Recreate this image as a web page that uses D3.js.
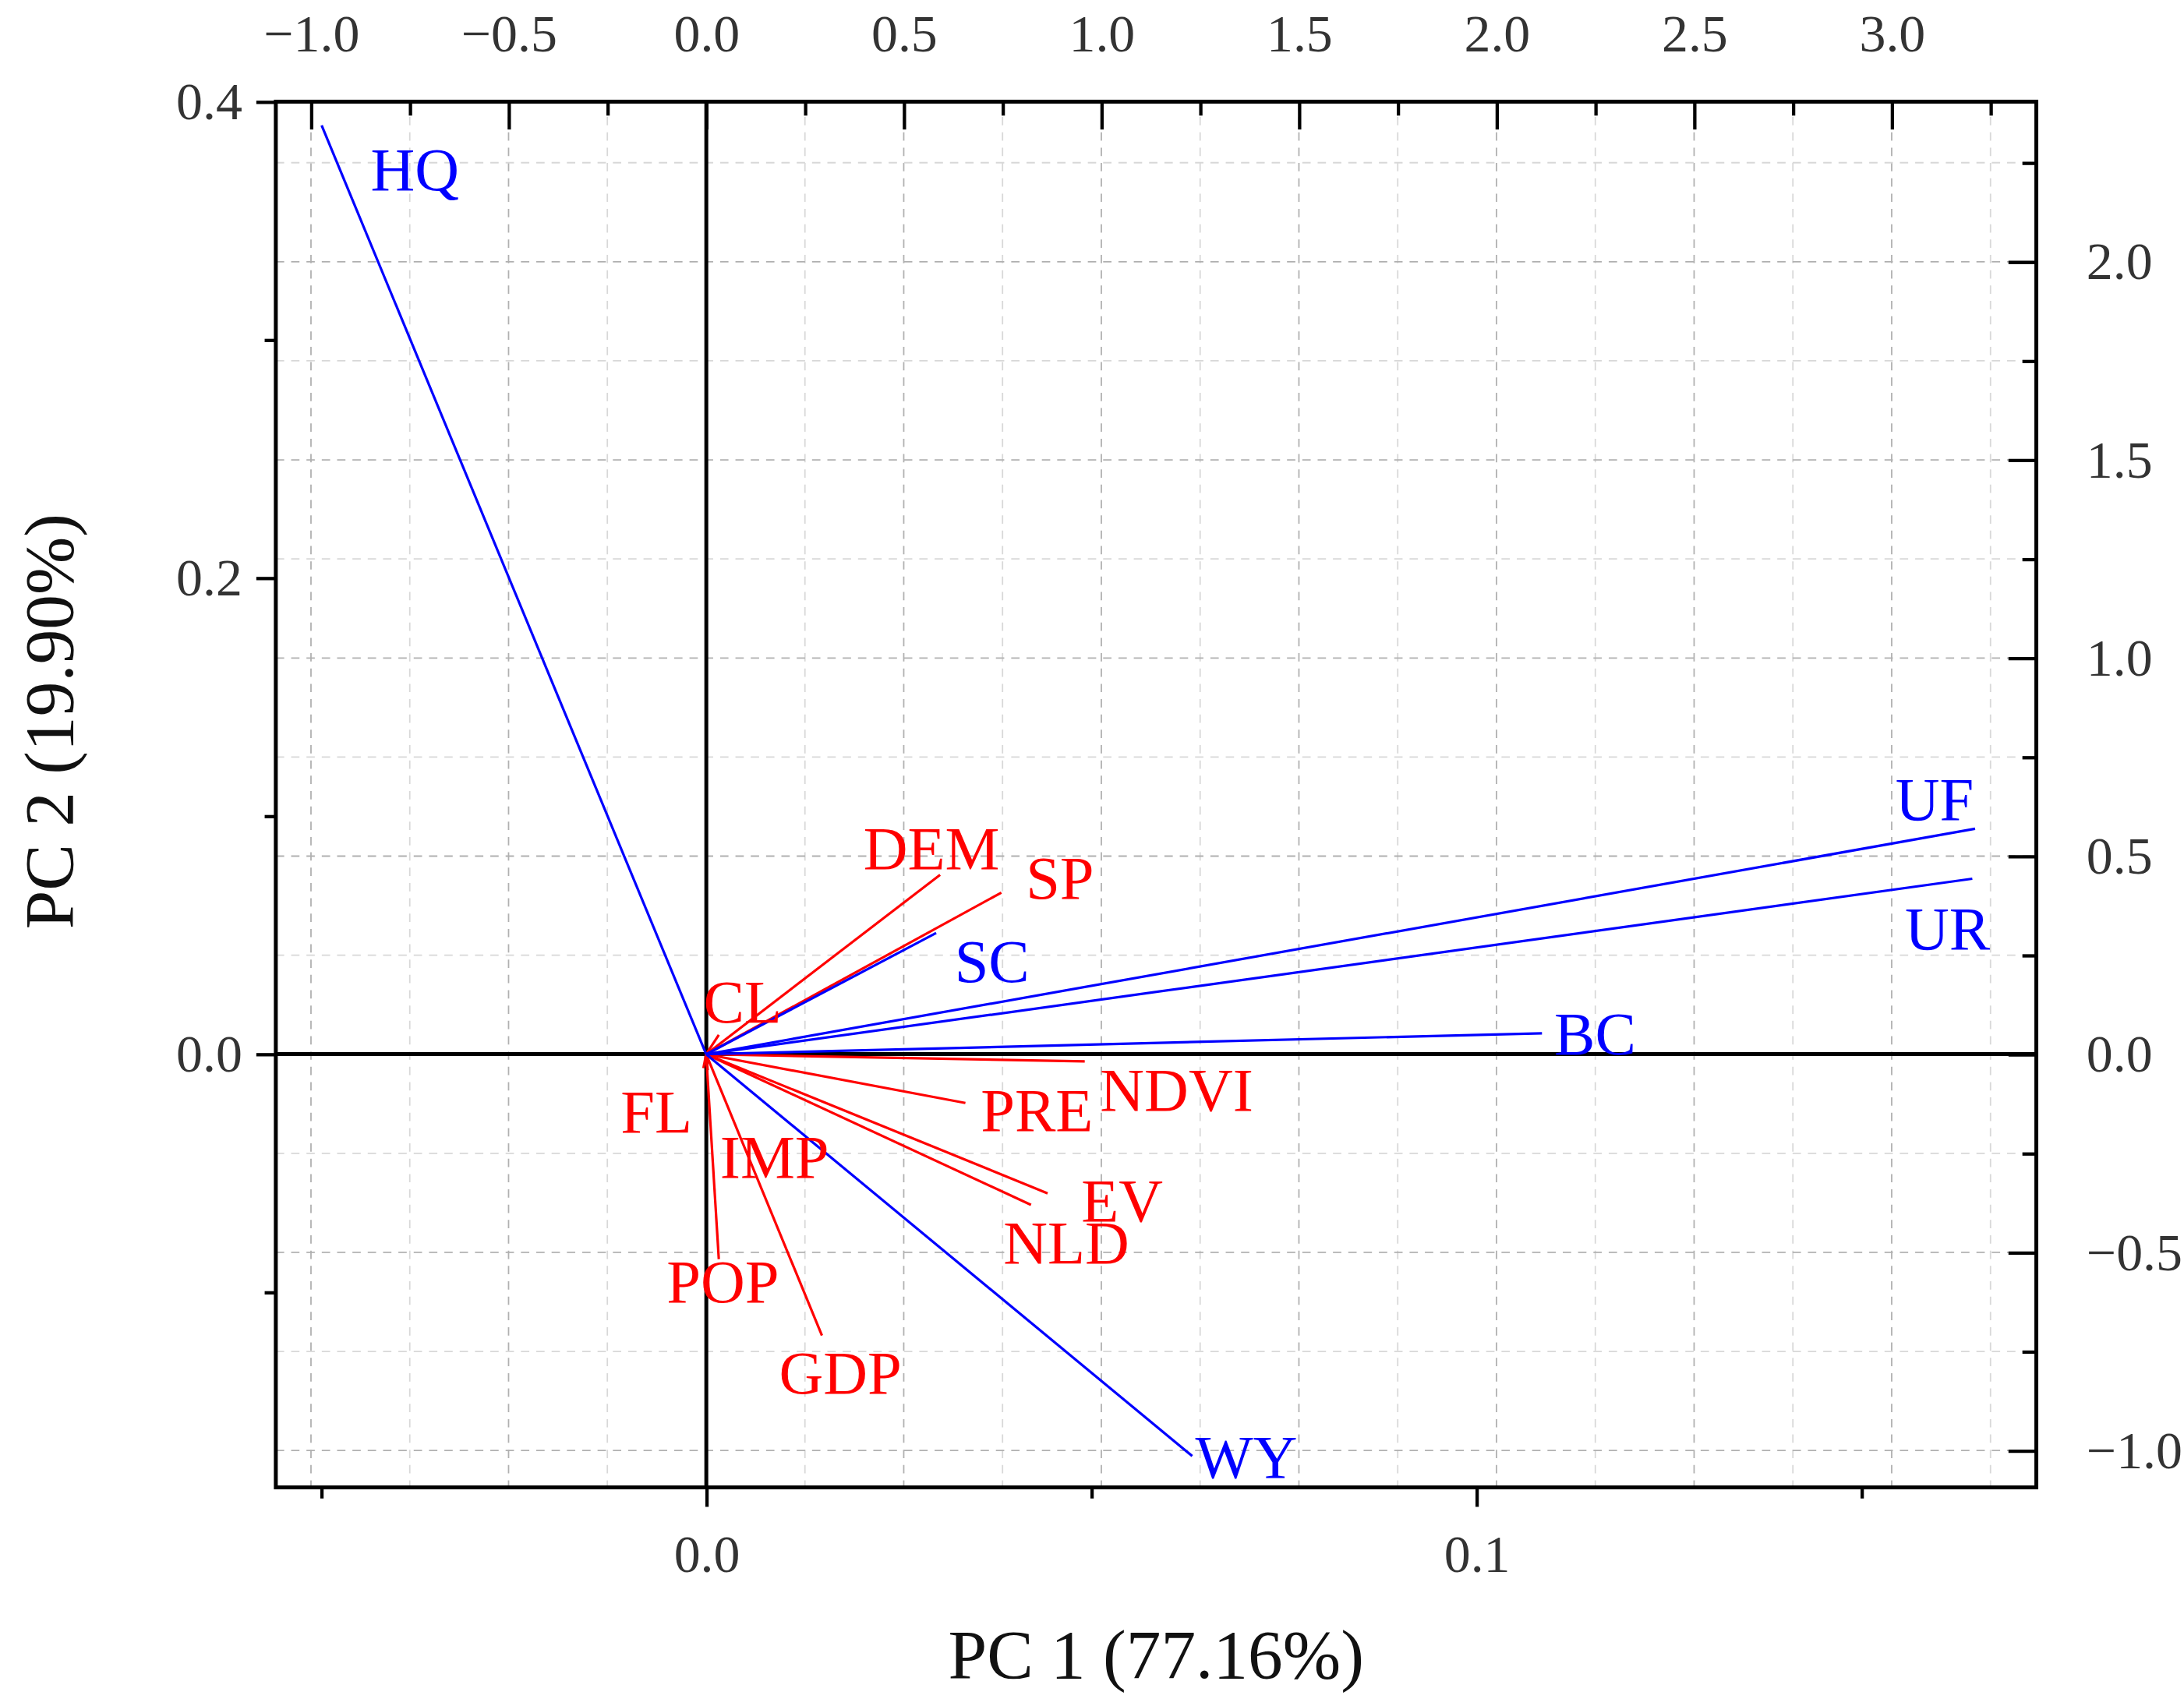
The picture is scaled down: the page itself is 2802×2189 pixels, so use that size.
<!DOCTYPE html>
<html>
<head>
<meta charset="utf-8">
<script src="https://cdn.jsdelivr.net/npm/d3@7"></script>
<style>
  html, body { margin: 0; padding: 0; background: #fff; }
  svg { display: block; font-family: "Liberation Serif", "DejaVu Serif", serif; }
</style>
</head>
<body>
<div id="chart"></div>
<script>
// Loadings, read on the top (x) and right (y) axes
const names   = ['HQ', 'UF', 'UR', 'BC', 'SC', 'WY', 'DEM', 'SP', 'CL', 'NDVI', 'PRE', 'EV', 'NLD', 'FL', 'IMP', 'POP', 'GDP'];
const xLoad   = [-0.973, 3.211, 3.204, 2.115, 0.582, 1.230, 0.592, 0.747, 0.032, 0.958, 0.656, 0.864, 0.822, -0.007, 0.004, 0.032, 0.293];
const yLoad   = [2.344, 0.569, 0.443, 0.053, 0.306, -1.014, 0.453, 0.408, 0.049, -0.018, -0.123, -0.351, -0.380, -0.035, -0.040, -0.517, -0.710];
const groups  = ['resp', 'resp', 'resp', 'resp', 'resp', 'resp', 'drv', 'drv', 'drv', 'drv', 'drv', 'drv', 'drv', 'drv', 'drv', 'drv', 'drv'];
// label offsets in font units (dx, dy) relative to vector tip
const labDx   = [0.8, -1.3, -1.1, 0.2, 0.3, 0.05, -1.25, 0.4, -0.25, 0.25, 0.25, 0.55, -0.45, -1.35, 0.2, -0.85, -0.7];
const labDy   = [1.05, -0.15, 1.15, 0.35, 0.8, 0.35, -0.1, 0.1, -0.2, 0.8, 0.45, 0.45, 0.95, 1.05, 1.75, 0.7, 0.95];

const bottomTicks = [0.0, 0.1];
const leftTicks   = [0.0, 0.2, 0.4];
const topTicks    = [-1.0, -0.5, 0.0, 0.5, 1.0, 1.5, 2.0, 2.5, 3.0];
const rightTicks  = [-1.0, -0.5, 0.0, 0.5, 1.0, 1.5, 2.0];

const W = 1568, H = 1225;
const L = 198, R = 1462, T = 73, B = 1068;

const svg = d3.select('#chart').append('svg')
  .attr('width', 2802).attr('height', 2189)
  .attr('viewBox', `0 0 ${W} ${H}`);

const xB = d3.scaleLinear().domain([-0.0559, 0.1727]).range([L, R]);
const yL = d3.scaleLinear().domain([-0.182, 0.4]).range([B, T]);
const xT = d3.scaleLinear().domain([-1.089, 3.366]).range([L, R]);
const yR = d3.scaleLinear().domain([-1.093, 2.404]).range([B, T]);

const col = { resp: '#0000ff', drv: '#ff0000' };

// grid (top / right scales, major 0.5 and minor 0.25)
const gx = d3.range(-1.0, 3.3, 0.25);
const gy = d3.range(-1.0, 2.3, 0.25);
const grid = svg.append('g');
gx.forEach(v => {
  const major = Math.abs(v * 2 - Math.round(v * 2)) < 1e-6;
  grid.append('line').attr('x1', xT(v)).attr('x2', xT(v)).attr('y1', T).attr('y2', B)
    .attr('stroke', major ? '#b0b0b0' : '#d8d8d8').attr('stroke-width', 1)
    .attr('stroke-dasharray', '6,5');
});
gy.forEach(v => {
  const major = Math.abs(v * 2 - Math.round(v * 2)) < 1e-6;
  grid.append('line').attr('y1', yR(v)).attr('y2', yR(v)).attr('x1', L).attr('x2', R)
    .attr('stroke', major ? '#b0b0b0' : '#d8d8d8').attr('stroke-width', 1)
    .attr('stroke-dasharray', '6,5');
});

// zero lines
svg.append('line').attr('x1', xB(0)).attr('x2', xB(0)).attr('y1', T).attr('y2', B)
  .attr('stroke', '#000').attr('stroke-width', 2.8);
svg.append('line').attr('x1', L).attr('x2', R).attr('y1', yL(0)).attr('y2', yL(0))
  .attr('stroke', '#000').attr('stroke-width', 2.8);

// vectors
const data = names.map((n, i) => ({ n, x: xLoad[i], y: yLoad[i], g: groups[i], dx: labDx[i], dy: labDy[i] }));
const order = data.filter(d => d.g === 'drv').concat(data.filter(d => d.g === 'resp'));
svg.append('g').selectAll('line').data(order).enter().append('line')
  .attr('x1', xT(0)).attr('y1', yR(0))
  .attr('x2', d => xT(d.x)).attr('y2', d => yR(d.y))
  .attr('stroke', d => col[d.g]).attr('stroke-width', 1.8);

svg.append('g').selectAll('text').data(data).enter().append('text')
  .attr('x', d => xT(d.x)).attr('y', d => yR(d.y))
  .attr('dx', d => d.dx + 'em').attr('dy', d => d.dy + 'em')
  .attr('font-size', 44)
  .attr('fill', d => col[d.g])
  .text(d => d.n);

// axes
const fmt = d3.format('.1f');
const minus = s => s.replace('-', '\u2212');
const styleAxis = (g) => {
  g.select('.domain').remove();
  g.selectAll('.tick line').attr('stroke', '#000').attr('stroke-width', 2.4);
  g.selectAll('.tick text').attr('fill', '#333').attr('font-size', 38)
    .attr('font-family', '"Liberation Serif", serif');
};

svg.append('g').attr('transform', `translate(0,${B})`)
  .call(d3.axisBottom(xB).tickValues(bottomTicks).tickFormat(v => minus(fmt(v))).tickSize(14).tickPadding(20))
  .call(styleAxis);
svg.append('g').attr('transform', `translate(0,${B})`)
  .call(d3.axisBottom(xB).tickValues([-0.05, 0.05, 0.15]).tickFormat('').tickSize(8))
  .call(styleAxis);

svg.append('g').attr('transform', `translate(${L},0)`)
  .call(d3.axisLeft(yL).tickValues(leftTicks).tickFormat(v => minus(fmt(v))).tickSize(14).tickPadding(10))
  .call(styleAxis);
svg.append('g').attr('transform', `translate(${L},0)`)
  .call(d3.axisLeft(yL).tickValues([-0.1, 0.1, 0.3]).tickFormat('').tickSize(8))
  .call(styleAxis);

svg.append('g').attr('transform', `translate(0,${T})`)
  .call(d3.axisTop(xT).tickValues(topTicks).tickFormat(v => minus(fmt(v))).tickSizeInner(-20).tickSizeOuter(0).tickPadding(36))
  .call(styleAxis);
svg.append('g').attr('transform', `translate(0,${T})`)
  .call(d3.axisTop(xT).tickValues(d3.range(-0.75, 3.3, 0.5)).tickFormat('').tickSizeInner(-10).tickSizeOuter(0))
  .call(styleAxis);

svg.append('g').attr('transform', `translate(${R},0)`)
  .call(d3.axisRight(yR).tickValues(rightTicks).tickFormat(v => minus(fmt(v))).tickSizeInner(-20).tickSizeOuter(0).tickPadding(36))
  .call(styleAxis);
svg.append('g').attr('transform', `translate(${R},0)`)
  .call(d3.axisRight(yR).tickValues(d3.range(-0.75, 2.3, 0.5)).tickFormat('').tickSizeInner(-10).tickSizeOuter(0))
  .call(styleAxis);

// frame
svg.append('rect').attr('x', L).attr('y', T).attr('width', R - L).attr('height', B - T)
  .attr('fill', 'none').attr('stroke', '#000').attr('stroke-width', 2.8);

// titles
svg.append('text').attr('x', 830).attr('y', 1205).attr('text-anchor', 'middle')
  .attr('font-size', 50).attr('fill', '#111').text('PC 1 (77.16%)');
svg.append('text').attr('transform', `translate(52,518) rotate(-90)`).attr('text-anchor', 'middle')
  .attr('font-size', 50).attr('fill', '#111').text('PC 2 (19.90%)');
</script>
</body>
</html>
